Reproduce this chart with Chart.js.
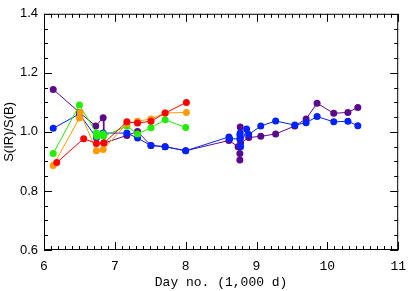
<!DOCTYPE html>
<html>
<head>
<meta charset="utf-8">
<script src="https://cdn.jsdelivr.net/npm/chart.js@4"></script>
<style>
  html, body { margin: 0; padding: 0; background: #fff; }
  #wrap { width: 415px; height: 291px; }
</style>
</head>
<body>
<div id="wrap"><canvas id="chart" width="415" height="291"></canvas></div>
<script>
// Day no. in units of 1,000 d, ratio S(IR)/S(B)
const X_TICKS = [6, 7, 8, 9, 10, 11];
const Y_TICKS = [0.6, 0.8, 1.0, 1.2, 1.4];

const redX = [6.18, 6.56, 6.74, 6.845, 7.17, 7.32, 7.51, 7.71, 8.01];
const redY = [0.896, 0.977, 0.961, 0.962, 1.034, 1.030, 1.036, 1.064, 1.100];

const orangeX = [6.13, 6.50, 6.51, 6.74, 6.835, 7.17, 7.32, 7.51, 7.71, 8.01];
const orangeY = [0.886, 1.047, 1.066, 0.936, 0.940, 1.028, 1.036, 1.044, 1.064, 1.066];

const greenX = [6.13, 6.50, 6.74, 6.745, 6.835, 6.84, 7.17, 7.32, 7.51, 7.71, 8.0];
const greenY = [0.927, 1.091, 0.996, 0.985, 0.993, 0.985, 1.020, 0.993, 1.014, 1.041, 1.015];

const blueX = [6.13, 6.50, 6.74, 6.835, 7.17, 7.32, 7.51, 7.71, 8.0,
  8.61, 8.62, 8.765, 8.77, 8.77, 8.765, 8.775, 8.86, 8.89,
  9.06, 9.27, 9.54, 9.70, 9.855, 10.09, 10.29, 10.43];
const blueY = [1.012, 1.061, 0.980, 0.996, 0.996, 0.979, 0.954, 0.950, 0.936,
  0.983, 0.977, 0.976, 0.983, 0.996, 0.990, 0.950, 1.010, 0.991,
  1.020, 1.037, 1.023, 1.031, 1.052, 1.034, 1.036, 1.021];

const purpleX = [6.13, 6.50, 6.73, 6.835, 6.845, 7.17, 7.32, 7.51, 7.71, 8.0,
  8.61, 8.74, 8.765, 8.765, 8.77, 8.775, 8.89,
  9.06, 9.27, 9.54, 9.70, 9.855, 10.09, 10.29, 10.43];
const purpleY = [1.144, 1.066, 1.020, 1.048, 0.962, 0.988, 1.001, 0.954, 0.950, 0.936,
  0.971, 0.950, 0.905, 0.927, 1.017, 0.962, 0.981,
  0.985, 0.993, 1.020, 1.044, 1.097, 1.063, 1.066, 1.083];

const pts = (xs, ys) => xs.map((x, i) => ({ x, y: ys[i] }));

function series(label, xs, ys, color) {
  return {
    label,
    data: pts(xs, ys),
    borderColor: color,
    backgroundColor: color,
    borderWidth: 1,
    pointRadius: 3.5,
    pointBorderWidth: 0,
    pointHoverRadius: 3.5,
    showLine: true,
    tension: 0,
  };
}

// IDL-style frame with inward ticks on all four sides
const frameTicks = {
  id: "frameTicks",
  afterDatasetsDraw(chart) {
    const { ctx, chartArea: a, scales: { x, y } } = chart;
    ctx.save();
    ctx.strokeStyle = "#000";
    ctx.lineWidth = 1;
    ctx.strokeRect(a.left + 0.5, a.top + 0.5, a.right - a.left - 1, a.bottom - a.top - 1);
    ctx.beginPath();
    for (let i = 0; i <= 50; i++) {
      const v = 6 + i * 0.1;
      const px = Math.round(x.getPixelForValue(v)) + 0.5;
      const len = i % 10 === 0 ? 8 : 4;
      ctx.moveTo(px, a.bottom); ctx.lineTo(px, a.bottom - len);
      ctx.moveTo(px, a.top); ctx.lineTo(px, a.top + len);
    }
    for (let i = 0; i <= 16; i++) {
      const v = 0.6 + i * 0.05;
      const py = Math.round(y.getPixelForValue(v)) + 0.5;
      const len = i % 4 === 0 ? 8 : 4;
      ctx.moveTo(a.left, py); ctx.lineTo(a.left + len, py);
      ctx.moveTo(a.right, py); ctx.lineTo(a.right - len, py);
    }
    ctx.stroke();
    ctx.restore();
  },
};

new Chart(document.getElementById("chart"), {
  type: "scatter",
  data: {
    datasets: [
      series("red", redX, redY, "#ff0000"),
      series("orange", orangeX, orangeY, "#ff9900"),
      series("green", greenX, greenY, "#22ee00"),
      series("blue", blueX, blueY, "#0022ff"),
      series("purple", purpleX, purpleY, "#5c0a8c"),
    ],
  },
  options: {
    responsive: false,
    animation: false,
    layout: { padding: { left: 0, right: 10, top: 4, bottom: 0 } },
    plugins: { legend: { display: false }, tooltip: { enabled: false } },
    scales: {
      x: {
        type: "linear",
        min: 6, max: 11,
        afterBuildTicks: (s) => { s.ticks = X_TICKS.map((v) => ({ value: v })); },
        afterFit: (s) => { s.height = 41; },
        grid: { display: false, drawTicks: false },
        border: { display: false },
        ticks: {
          padding: 9,
          color: "#000",
          maxRotation: 0,
          font: { family: "Liberation Mono", size: 13 },
          callback: (v) => String(v),
        },
        title: {
          display: true,
          text: "Day no. (1,000 d)",
          color: "#000",
          font: { family: "Liberation Mono", size: 13 },
          padding: { top: 0, bottom: 1 },
        },
      },
      y: {
        min: 0.6, max: 1.4,
        afterBuildTicks: (s) => { s.ticks = Y_TICKS.map((v) => ({ value: v })); },
        afterFit: (s) => { s.width = 44; },
        grid: { display: false, drawTicks: false },
        border: { display: false },
        ticks: {
          padding: 6,
          color: "#000",
          font: { family: "Liberation Sans", size: 13 },
          callback: (v) => Number(v).toFixed(1),
        },
        title: {
          display: true,
          text: "S(IR)/S(B)",
          color: "#000",
          font: { family: "Liberation Sans", size: 13 },
          padding: { top: 2, bottom: 0 },
        },
      },
    },
  },
  plugins: [frameTicks],
});
</script>
</body>
</html>
